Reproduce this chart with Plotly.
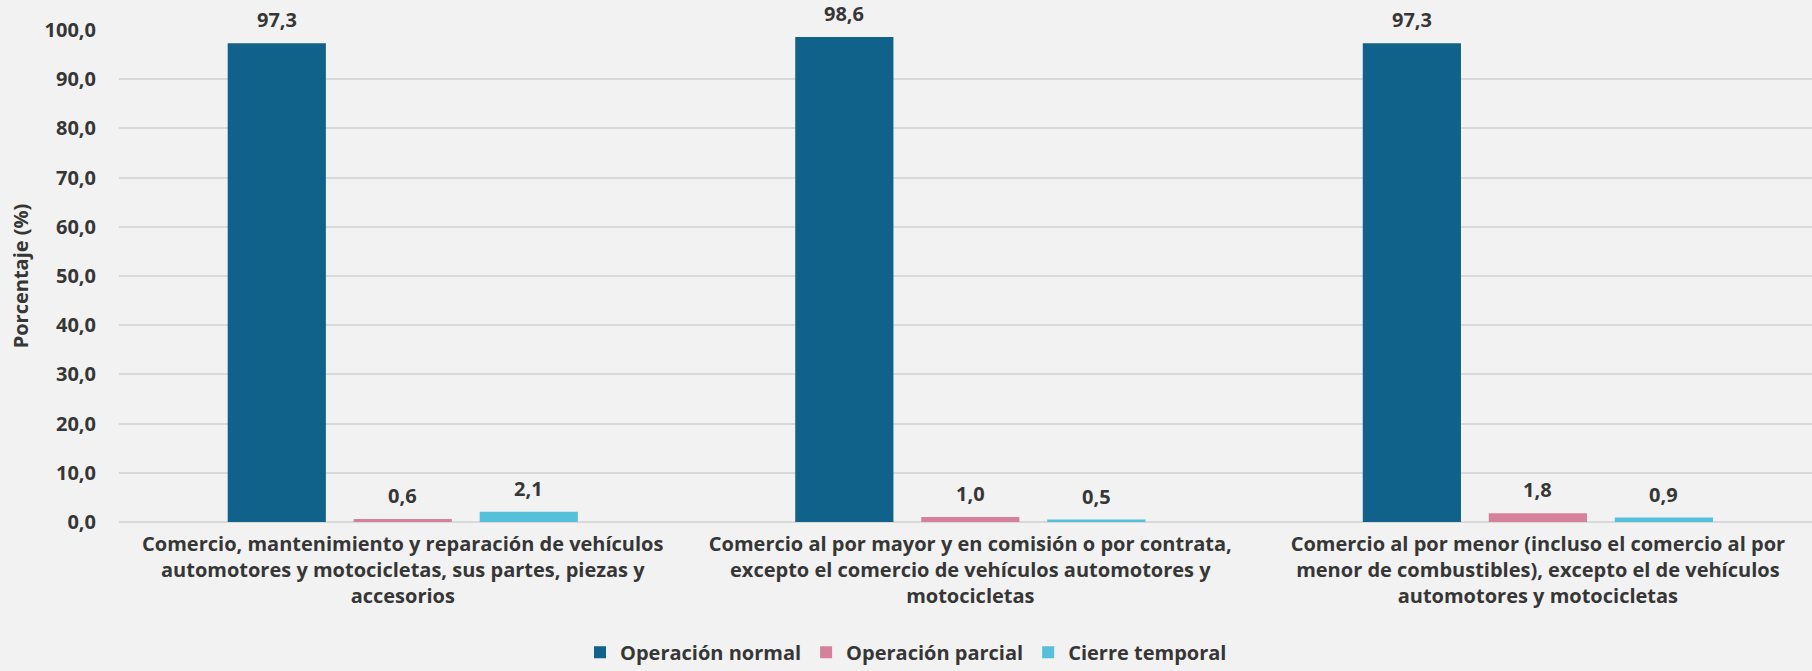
import plotly.graph_objects as go

# datos
categorias = [
    "Comercio, mantenimiento y reparación de vehículos<br>automotores y motocicletas, sus partes, piezas y<br>accesorios",
    "Comercio al por mayor y en comisión o por contrata,<br>excepto el comercio de vehículos automotores y<br>motocicletas",
    "Comercio al por menor (incluso el comercio al por<br>menor de combustibles), excepto el de vehículos<br>automotores y motocicletas",
]
operacion_normal = [97.3, 98.6, 97.3]
operacion_parcial = [0.6, 1.0, 1.8]
cierre_temporal = [2.1, 0.5, 0.9]

series = [
    ("Operación normal", operacion_normal, "#10628a", -0.222),
    ("Operación parcial", operacion_parcial, "#d6819c", 0.0),
    ("Cierre temporal", cierre_temporal, "#56bfd9", 0.222),
]

TEXT = "#363636"
FONT = "Open Sans"
SIZE = 20
BAR_W = 0.173

fig = go.Figure()
pos = list(range(len(categorias)))

for name, vals, color, off in series:
    fig.add_trace(go.Bar(
        x=[p + off for p in pos], y=vals, name=name,
        width=BAR_W, marker=dict(color=color, line=dict(width=0)),
    ))
    # etiquetas de datos encima de cada barra
    for p, v in zip(pos, vals):
        fig.add_annotation(
            x=p + off, y=v, xref="x", yref="y",
            text=f"{v:.1f}".replace(".", ","), showarrow=False,
            yanchor="bottom", yshift=8,
            font=dict(family=FONT, size=SIZE, color=TEXT, weight="bold"),
        )

fig.update_layout(
    width=1812, height=671,
    paper_bgcolor="#f2f2f2", plot_bgcolor="#f2f2f2",
    font=dict(family=FONT, size=SIZE, color=TEXT, weight="bold"),
    separators=",.",
    margin=dict(l=119, r=0, t=30, b=149, autoexpand=False),
    showlegend=True,
    legend=dict(
        orientation="h", xref="container", yref="container",
        x=0.5, xanchor="center", y=0.028, yanchor="middle",
        font=dict(family=FONT, size=SIZE, color=TEXT, weight="bold"),
        bgcolor="rgba(0,0,0,0)", traceorder="normal", itemwidth=30,
    ),
)

fig.update_xaxes(
    range=[-0.5, 2.483], tickvals=pos, ticktext=categorias,
    showgrid=False, zeroline=False, showline=False, ticks="",
    ticklabelstandoff=8, tickangle=0, automargin=False,
    tickfont=dict(family=FONT, size=SIZE, color=TEXT, weight="bold"),
)
fig.update_yaxes(
    range=[0, 100], dtick=10, tickformat=".1f",
    showgrid=True, gridcolor="#d9d9d9", gridwidth=2,
    zeroline=True, zerolinecolor="#d9d9d9", zerolinewidth=2,
    showline=False, ticks="", ticklabelstandoff=22, automargin=False,
    tickfont=dict(family=FONT, size=SIZE, color=TEXT, weight="bold"),
    title=dict(text="Porcentaje (%)", standoff=10,
               font=dict(family=FONT, size=SIZE, color=TEXT, weight="bold")),
)

# quitar el margen del body para que la figura ocupe la ventana
fig.write_html("out.html", config={"displayModeBar": False},
               post_script="document.body.style.margin='0';")
